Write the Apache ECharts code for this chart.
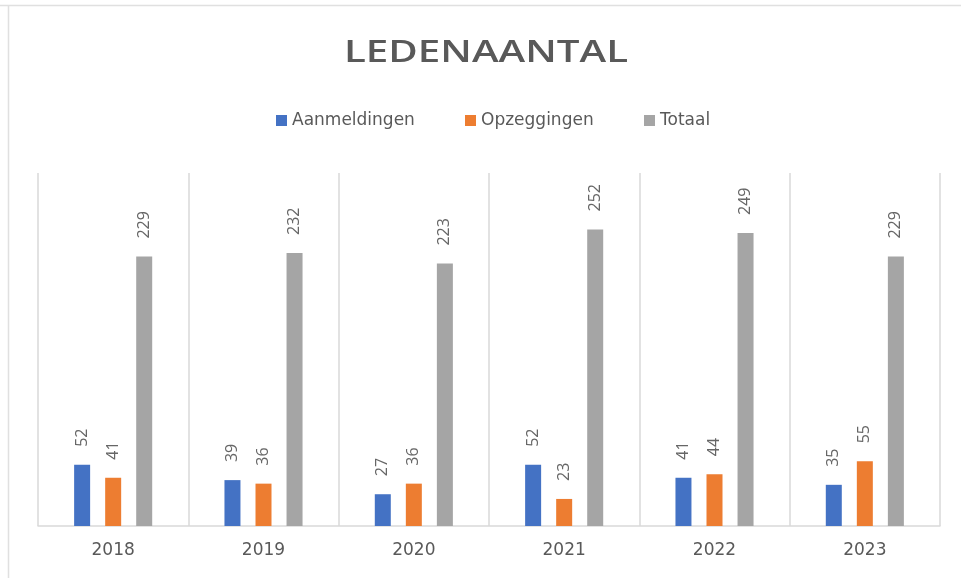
<!DOCTYPE html>
<html><head><meta charset="utf-8">
<script src="https://cdn.jsdelivr.net/npm/echarts@6/dist/echarts.min.js"></script>
<style>html,body{margin:0;padding:0;background:#fff}#c{width:961px;height:578px}</style>
</head><body><div id="c"></div>
<script>
const categories = ['2018', '2019', '2020', '2021', '2022', '2023'];
const aanmeldingen = [52, 39, 27, 52, 41, 35];
const opzeggingen = [41, 36, 36, 23, 44, 55];
const totaal = [229, 232, 223, 252, 249, 229];
const seriesNames = ['Aanmeldingen', 'Opzeggingen', 'Totaal'];
const titleText = 'LEDENAANTAL';
const colors = ['#4472C4', '#ED7D31', '#A5A5A5'];
const FONT = '"Open Sans", "Noto Sans", sans-serif';
const WIDE = '"DejaVu Sans", sans-serif';

const chart = echarts.init(document.getElementById('c'));
const label = {
  show: true, position: 'top', rotate: 90, align: 'left', verticalAlign: 'middle',
  distance: 18, color: '#666666', fontSize: 16, fontFamily: FONT
};
const mk = (i, data) => ({
  name: seriesNames[i], type: 'bar', data, barWidth: 16, barGap: '94%',
  itemStyle: { color: colors[i] }, label
});
const legendLefts = [271, 460, 639];
chart.setOption({
  animation: false,
  legend: seriesNames.map((n, i) => ({
    data: [n], top: 107, left: legendLefts[i], itemWidth: 11, itemHeight: 11, icon: 'rect',
    textStyle: { fontSize: 17, color: '#595959', fontFamily: WIDE }
  })),
  grid: { left: 38, right: 21, top: 173, bottom: 52 },
  xAxis: {
    type: 'category', data: categories,
    axisLine: { lineStyle: { color: '#d9d9d9', width: 1.5 } },
    axisTick: { show: false },
    splitLine: { show: true, lineStyle: { color: '#d9d9d9', width: 1.5 } },
    axisLabel: { fontSize: 17, color: '#595959', fontFamily: WIDE, margin: 16 }
  },
  yAxis: { type: 'value', min: 0, max: 300, show: false, splitLine: { show: false } },
  series: [mk(0, aanmeldingen), mk(1, opzeggingen), mk(2, totaal)],
  graphic: [
    { type: 'line', shape: { x1: 0, y1: 5.5, x2: 961, y2: 5.5 }, style: { stroke: '#e0e0e0', lineWidth: 1.5 } },
    { type: 'line', shape: { x1: 8.5, y1: 5, x2: 8.5, y2: 578 }, style: { stroke: '#e0e0e0', lineWidth: 1.5 } },
    { type: 'text', x: 486, y: 53, scaleX: 1.3,
      style: { text: titleText, align: 'center', verticalAlign: 'middle',
        font: '600 31px "Open Sans", sans-serif', fill: '#595959' } }
  ]
});
</script></body></html>
